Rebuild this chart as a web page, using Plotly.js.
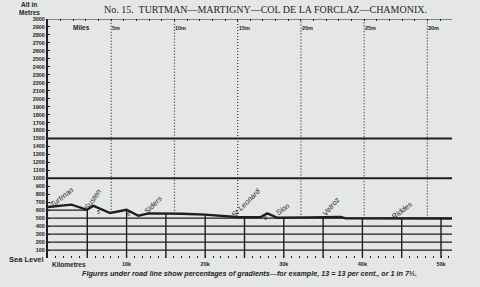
<!DOCTYPE html>
<html><head><meta charset="utf-8">
<script src="https://cdn.plot.ly/plotly-3.0.1.min.js"></script>
<style>html,body{margin:0;padding:0;background:#e4e7e6;}#c{width:480px;height:287px;}</style>
</head><body><div id="c"></div>
<script>
// Road profile: distance (km) and altitude (m)
const profileKm  = [0, 3.0, 4.95, 5.8, 7.9, 10.0, 11.5, 12.8, 17, 20, 24.4, 27.0, 27.9, 29.2, 33, 37.2, 37.9, 51.4];
const profileAlt = [640, 670, 605, 655, 565, 605, 530, 560, 555, 545, 512, 512, 560, 505, 510, 515, 498, 495];
// Place names
const placeNames = ["Turtman", "Susten", "Siders", "St Leonard", "Sion", "Vetroz", "Riddes"];
const placeKm    = [1.7, 5.7, 13.4, 25.2, 29.8, 36.0, 45.0];
const placeAlt   = [760, 735, 675, 700, 612, 650, 600];
const placeAngle = [-38, -55, -45, -45, -35, -50, -37];
// Gradient figures
const gradText = ["5", "6", "6"];
const gradKm   = [6.4, 10.2, 27.7];
const gradAlt  = [575, 550, 500];
// Axes
const altTicks = [100,200,300,400,500,600,700,800,900,1000,1100,1200,1300,1400,1500,1600,1700,1800,1900,2000,2100,2200,2300,2400,2500,2600,2700,2800,2900,3000];
const kmTicks = [10, 20, 30, 40, 50];
const kmTickText = ["10k", "20k", "30k", "40k", "50k"];
const mileMarks = [5, 10, 15, 20, 25, 30];
const mileText = ["5m", "10m", "15m", "20m", "25m", "30m"];
const kmGrid = [5, 10, 15, 20, 25, 30, 35, 40, 45, 50];
const contourLevels = [100, 200, 300, 400, 500];
const heavyLevels = [1000, 1500];
const kmMax = 51.4;
const KM_PER_MILE = 1.609;

function interp(x) {
  for (let i = 0; i < profileKm.length - 1; i++) {
    if (x >= profileKm[i] && x <= profileKm[i+1]) {
      const t = (x - profileKm[i]) / (profileKm[i+1] - profileKm[i]);
      return profileAlt[i] + t * (profileAlt[i+1] - profileAlt[i]);
    }
  }
  return profileAlt[profileAlt.length - 1];
}

const ink = '#1e1e1e';
const shapes = [];
contourLevels.forEach(l => shapes.push({type:'line', xref:'x', yref:'y', x0:0, x1:kmMax, y0:l, y1:l, line:{color:ink, width:1.3}}));
// 600 contour only where the road stays above it at the start
shapes.push({type:'line', xref:'x', yref:'y', x0:0, x1:5, y0:600, y1:600, line:{color:ink, width:1.3}});
heavyLevels.forEach(l => shapes.push({type:'line', xref:'x', yref:'y', x0:0, x1:kmMax, y0:l, y1:l, line:{color:ink, width:2}}));
kmGrid.forEach(k => shapes.push({type:'line', xref:'x', yref:'y', x0:k, x1:k, y0:0, y1:interp(k), line:{color:ink, width:1.4}}));
mileMarks.forEach(m => {
  const k = m * KM_PER_MILE;
  shapes.push({type:'line', xref:'x', yref:'y', x0:k, x1:k, y0:interp(k), y1:3000, line:{color:'#333', width:1.2, dash:'1px,2px'}});
});
// top mile axis line
shapes.push({type:'line', xref:'x', yref:'y', x0:0, x1:kmMax, y0:3000, y1:3000, line:{color:ink, width:1.2}});

const annotations = [];
placeNames.forEach((n, i) => annotations.push({
  x: placeKm[i], y: placeAlt[i], xref:'x', yref:'y', text:'<i>' + n + '</i>', showarrow:false,
  textangle: placeAngle[i], xanchor:'center', yanchor:'middle',
  font:{family:'Liberation Sans, Arial, sans-serif', size:7.5, color:ink}
}));
gradText.forEach((g, i) => annotations.push({
  x: gradKm[i], y: gradAlt[i], xref:'x', yref:'y', text:g, showarrow:false,
  font:{family:'Liberation Sans, Arial, sans-serif', size:5.5, color:ink}
}));
mileMarks.forEach((m, i) => annotations.push({
  x: m * KM_PER_MILE, y: 2890, xref:'x', yref:'y', text:mileText[i], showarrow:false,
  xanchor:'left', yanchor:'middle', xshift:-1, font:{family:'Liberation Sans, Arial, sans-serif', size:5.5, color:ink, weight:'bold'}
}));
annotations.push({x:0.05, y:2890, xref:'x', yref:'y', text:'Miles', showarrow:false, xanchor:'left', yanchor:'middle', xshift:23,
  font:{family:'Liberation Sans, Arial, sans-serif', size:6.5, color:ink, weight:'bold'}});
annotations.push({x:0, y:0, xref:'x', yref:'y', text:'Sea Level', showarrow:false, xanchor:'right', yanchor:'middle', xshift:-2, yshift:-1,
  font:{family:'Liberation Sans, Arial, sans-serif', size:7.5, color:ink, weight:'bold'}});
annotations.push({x:0, y:0, xref:'x', yref:'y', text:'Kilometres', showarrow:false, xanchor:'left', yanchor:'top', xshift:2, yshift:-1,
  font:{family:'Liberation Sans, Arial, sans-serif', size:6.5, color:ink, weight:'bold'}});
annotations.push({x:29, y:4.5, xref:'paper', yref:'paper', xanchor:'center', yanchor:'middle', text:'Alt in', showarrow:false,
  font:{family:'Liberation Sans, Arial, sans-serif', size:6.5, color:ink, weight:'bold'}});
annotations.push({x:29, y:12, xref:'paper', yref:'paper', xanchor:'center', yanchor:'middle', text:'Metres', showarrow:false,
  font:{family:'Liberation Sans, Arial, sans-serif', size:6.5, color:ink, weight:'bold'}});
annotations.push({x:265, y:10, xref:'paper', yref:'paper', text:'No. 15.  TURTMAN—MARTIGNY—COL DE LA FORCLAZ—CHAMONIX.', showarrow:false,
  xanchor:'center', yanchor:'middle', font:{family:'Liberation Serif, serif', size:10, color:ink}});
annotations.push({x:249, y:273, xref:'paper', yref:'paper', text:'<b><i>Figures under road line show percentages of gradients—for example, 13 = 13 per cent., or 1 in 7½.</i></b>', showarrow:false,
  xanchor:'center', yanchor:'middle', font:{family:'Liberation Sans, Arial, sans-serif', size:7.2, color:ink}});

// convert pixel-positioned paper annotations
annotations.forEach(a => {
  if (a.xref === 'paper') {
    a.x = (a.x - 48) / 404;
    a.y = (258 - a.y) / 239;
  }
});

const data = [{
  x: profileKm, y: profileAlt, type:'scatter', mode:'lines',
  line:{color:ink, width:2.4}, hoverinfo:'skip'
}];

const layout = {
  width:480, height:287,
  margin:{l:48, r:28, t:19, b:29},
  paper_bgcolor:'#e4e7e6', plot_bgcolor:'#e4e7e6',
  showlegend:false,
  xaxis:{range:[0, kmMax], showgrid:false, zeroline:false, showline:false,
    tickvals:kmTicks, ticktext:kmTickText, ticks:'inside', ticklen:2, tickcolor:ink,
    minor:{dtick:1, ticks:'inside', ticklen:2, tickcolor:ink, showgrid:false},
    tickfont:{family:'Liberation Sans, Arial, sans-serif', size:5.5, color:ink, weight:'bold'}, ticklabelstandoff:1},
  yaxis:{range:[0, 3000], showgrid:false, zeroline:false, showline:true, linecolor:ink, linewidth:2,
    tickvals:altTicks, ticks:'inside', ticklen:2, tickcolor:ink,
    tickfont:{family:'Liberation Sans, Arial, sans-serif', size:5.5, color:ink, weight:'bold'}},
  shapes: shapes,
  annotations: annotations
};
// top mile ticks via second axis
layout.xaxis2 = {overlaying:'x', side:'top', range:[0, kmMax / KM_PER_MILE], showgrid:false, zeroline:false,
  ticks:'inside', ticklen:2, tickcolor:ink, dtick:1, showticklabels:false};
data.push({x:[0], y:[0], xaxis:'x2', type:'scatter', mode:'markers', marker:{opacity:0}, hoverinfo:'skip'});

Plotly.newPlot('c', data, layout, {staticPlot:true});
</script></body></html>
